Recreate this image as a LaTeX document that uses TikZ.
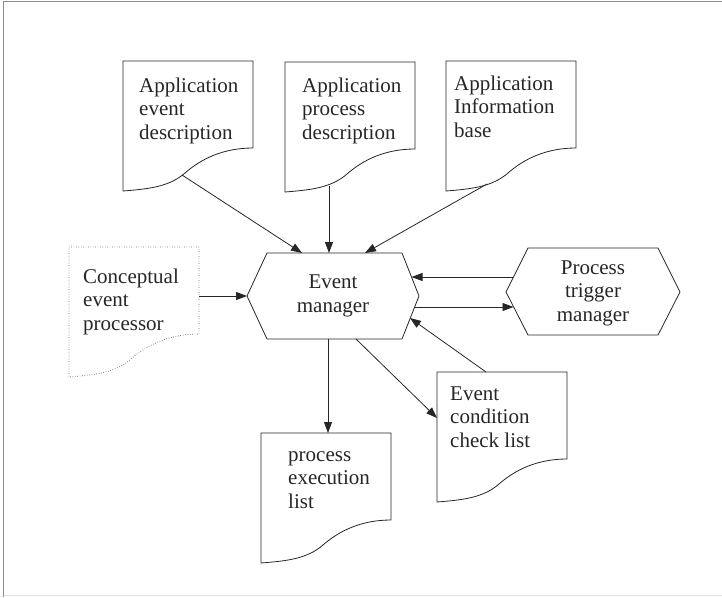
\documentclass[tikz,border=0pt]{standalone}
\usepackage{fontspec}
\setmainfont{Liberation Serif}
\usetikzlibrary{arrows.meta}
\tikzset{
  shapeline/.style={draw=black!85, line width=0.8pt},
  conn/.style={draw=black!85, line width=0.8pt, -{Triangle[length=11pt,width=8pt]}},
  lbl/.style={font=\fontsize{21pt}{23.5pt}\selectfont, inner sep=0pt, align=left, anchor=base west, text=black!85},
  clbl/.style={font=\fontsize{21pt}{23.5pt}\selectfont, inner sep=0pt, align=center, text=black!85},
  docshape/.pic={
    \path[shapeline, pic actions] (0,0) -- (130pt,0) -- (130pt,-87pt)
      .. controls (100pt,-87pt) and (78pt,-98pt) .. (62pt,-112pt)
      .. controls (46pt,-126pt) and (25pt,-128pt) .. (0,-130pt) -- cycle;
  }
}
\begin{document}
\begin{tikzpicture}[x=1pt,y=1pt]
\useasboundingbox (0,0) rectangle (722,-597);
% frame
\draw[black!45, line width=1pt] (3.5,-597) -- (3.5,-1) -- (722,-1);
\draw[black!12, line width=1pt] (3.5,-595.5) -- (722,-595.5);

% documents
\pic (d1) at (123,-61) {docshape};
\pic (d2) at (285,-62) {docshape};
\pic (d3) at (446,-61) {docshape};
\pic[dotted] (cep) at (69,-247) {docshape};
\pic (pel) at (261,-433) {docshape};
\pic (ecl) at (437,-372) {docshape};

% labels (anchor = baseline of last line)
\node[lbl] (t1) at (139,-139) {Application\\event\\description};
\node[lbl] (t2) at (302,-139) {Application\\process\\description};
\node[lbl] (t3) at (454,-137) {Application\\Information\\base};
\node[lbl] (t4) at (83,-330) {Conceptual\\event\\processor};
\node[lbl] (t5) at (288,-508) {process\\execution\\list};
\node[lbl] (t6) at (450,-447) {Event\\condition\\check list};

% hexagons
\draw[shapeline] (247,-296) -- (267,-253) -- (402,-253) -- (419,-296) -- (402,-339) -- (267,-339) -- cycle;
\node[clbl] (em) at (333,-296) {Event\\manager};
\draw[shapeline] (506,-292) -- (528,-248) -- (658,-248) -- (680,-292) -- (658,-335) -- (528,-335) -- cycle;
\node[clbl] (ptm) at (593,-293) {Process\\trigger\\manager};

% connector end points
\coordinate (d1o) at (182,-175);
\coordinate (d2o) at (329,-186);
\coordinate (d3o) at (487,-184);
\coordinate (emA) at (302,-253);
\coordinate (emB) at (329,-253);
\coordinate (emC) at (365,-253);
\coordinate (cepo) at (199,-296);
\coordinate (emL) at (247,-296);
\coordinate (emR1) at (411.5,-277);
\coordinate (ptmL1) at (513,-277);
\coordinate (emR2) at (414.5,-307);
\coordinate (ptmL2) at (513.5,-307);
\coordinate (emR3) at (410,-318);
\coordinate (eclT) at (486,-372);
\coordinate (emB1) at (328,-339);
\coordinate (pelT) at (328,-433);
\coordinate (emB2) at (356,-339);
\coordinate (eclL) at (437,-418);

\draw[conn] (d1o) -- (emA);
\draw[conn] (d2o) -- (emB);
\draw[conn] (d3o) -- (emC);
\draw[conn] (cepo) -- (emL);
\draw[conn] (ptmL1) -- (emR1);
\draw[conn] (emR2) -- (ptmL2);
\draw[conn] (eclT) -- (emR3);
\draw[conn] (emB1) -- (pelT);
\draw[conn] (emB2) -- (eclL);
\end{tikzpicture}
\end{document}
